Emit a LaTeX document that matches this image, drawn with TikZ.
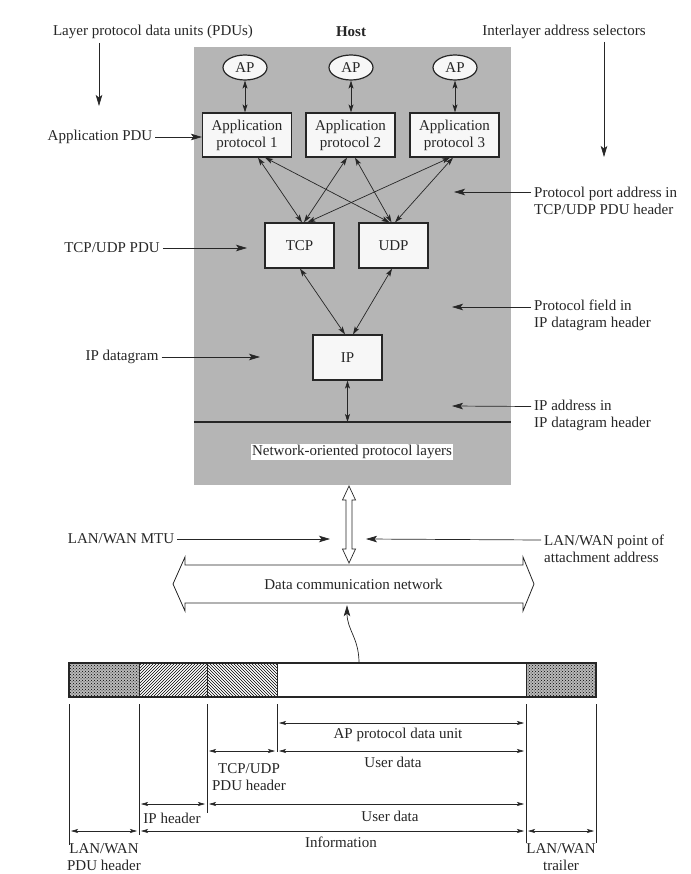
\documentclass[tikz,border=0pt]{standalone}
\usepackage{fontspec}
\setmainfont{Liberation Serif}
\usetikzlibrary{arrows.meta,patterns,shapes.geometric}
\begin{document}
\begin{tikzpicture}[x=1pt,y=-1pt,
  every node/.style={font=\fontsize{15}{17}\selectfont, text=black!85},
  lbl/.style={inner sep=0pt, align=center},
  rlbl/.style={inner sep=0pt, align=left, anchor=west},
  box/.style={draw=black!85, fill=gray!6, line width=1.2pt, minimum width=89pt, minimum height=44pt, inner sep=0pt, align=center},
  pbox/.style={draw=black!85, fill=gray!6, line width=1.2pt, minimum width=69pt, minimum height=45pt, inner sep=0pt},
  apnode/.style={draw=black!85, ellipse, fill=gray!6, line width=1.2pt, minimum width=44pt, minimum height=25pt, inner sep=0pt},
  tip/.style={draw=black!85, -{Stealth[length=11pt,width=6.5pt,inset=2.5pt]}, line width=0.7pt},
  dtip/.style={draw=black!85, {Stealth[length=8pt,width=5pt,inset=2pt]}-{Stealth[length=8pt,width=5pt,inset=2pt]}, line width=0.7pt},
  dim/.style={draw=black!85, {Stealth[length=7pt,width=4pt,inset=1.5pt]}-{Stealth[length=7pt,width=4pt,inset=1.5pt]}, line width=0.6pt, shorten <=2pt, shorten >=2pt},
  tick/.style={draw=black!85, line width=0.6pt},
]
\useasboundingbox (0,0) rectangle (690,874);
\fill[white] (0,0) rectangle (690,874);

% host background
\node[fill=gray!58, minimum width=317pt, minimum height=438pt, inner sep=0pt] (hostbg) at (352.5,266) {};

% top titles
\node[lbl] (lpdu) at (153,32) {Layer protocol data units (PDUs)};
\node[lbl, font=\fontsize{15}{17}\selectfont\bfseries] (host) at (351,32) {Host};
\node[lbl] (ilas) at (564,32) {Interlayer address selectors};
\coordinate (l1a) at (99,43); \coordinate (l1b) at (99,106);
\draw[tip] (l1a) -- (l1b);
\coordinate (r1a) at (604,42); \coordinate (r1b) at (604,157);
\draw[tip] (r1a) -- (r1b);

% AP and application protocols
\node[apnode] (ap1) at (245,67.5) {AP};
\node[apnode] (ap2) at (351,67.5) {AP};
\node[apnode] (ap3) at (455,67.5) {AP};
\node[box] (app1) at (247,135) {Application\\protocol 1};
\node[box] (app2) at (350.5,135) {Application\\protocol 2};
\node[box] (app3) at (454.5,135) {Application\\protocol 3};
\draw[dtip] (ap1.south) -- (ap1.south |- app1.north);
\draw[dtip] (ap2.south) -- (ap2.south |- app2.north);
\draw[dtip] (ap3.south) -- (ap3.south |- app3.north);

% transport and IP
\node[pbox] (tcp) at (299.5,245.5) {TCP};
\node[pbox] (udp) at (393.5,245.5) {UDP};
\node[pbox] (ip) at (347.5,357.5) {IP};

\draw[dtip] ([xshift=11pt]app1.south) -- ([xshift=2.5pt]tcp.north);
\draw[dtip] ([xshift=18pt]app1.south) -- ([xshift=-4pt]udp.north);
\draw[dtip] ([xshift=-3.5pt]app2.south) -- ([xshift=4.5pt]tcp.north);
\draw[dtip] ([xshift=4.5pt]app2.south) -- ([xshift=-2pt]udp.north);
\draw[dtip] ([xshift=-4.5pt]app3.south) -- ([xshift=8pt]tcp.north);
\draw[dtip] ([xshift=-1.5pt]app3.south) -- ([xshift=1.5pt]udp.north);
\draw[dtip] ([xshift=0.5pt]tcp.south) -- ([xshift=-2.5pt]ip.north);
\draw[dtip] ([xshift=-1.5pt]udp.south) -- ([xshift=5.5pt]ip.north);

% left labels
\node[lbl] (apdu) at (100,137) {Application PDU};
\draw[tip] ([xshift=3pt]apdu.east) -- (apdu.east -| app1.west);
\node[lbl] (tupdu) at (112,248) {TCP/UDP PDU};
\coordinate (tupduE) at (247,248);
\draw[tip] ([xshift=3pt]tupdu.east) -- (tupduE);
\node[lbl] (ipd) at (122,357) {IP datagram};
\coordinate (ipdE) at (260,357);
\draw[tip] ([xshift=3pt]ipd.east) -- (ipdE);

% right labels
\node[rlbl] (ppa) at (534,200.5) {Protocol port address in\\TCP/UDP PDU header};
\coordinate (ppaE) at (454,192);
\draw[tip] ([xshift=-3pt,yshift=8.5pt]ppa.west) -- (ppaE);
\node[rlbl] (pf) at (534,315.5) {Protocol field in\\IP datagram header};
\coordinate (pfE) at (452,307);
\draw[tip] ([xshift=-3pt,yshift=8.5pt]pf.west) -- (pfE);
\node[rlbl] (ipa) at (534,415) {IP address in\\IP datagram header};
\coordinate (ipaE) at (452,406);
\draw[tip] ([xshift=-3pt,yshift=8.5pt]ipa.west) -- (ipaE);

% network-oriented layers
\coordinate (netln) at (347.5,422);
\draw[draw=black!85, line width=1.1pt] (hostbg.west |- netln) -- (hostbg.east |- netln);
\draw[dtip] (ip.south) -- (netln);
\node[fill=white, inner sep=1.5pt] (nopl) at (352,452) {Network-oriented protocol layers};

% open double arrow
\coordinate (mtuT) at (349,486);
\coordinate (mtuB) at (349,563);
\draw[draw=black!85, fill=white, line width=0.7pt] (mtuT) -- ++(6.5,14) -- ++(-3.5,0) -- ++(0,49) -- ++(3.5,0) -- (mtuB) -- ++(-6.5,-14) -- ++(3.5,0) -- ++(0,-49) -- ++(-3.5,0) -- cycle;

% MTU labels
\node[lbl] (mtu) at (121,539) {LAN/WAN MTU};
\coordinate (mtuE) at (330,539);
\draw[tip] ([xshift=3pt]mtu.east) -- (mtuE);
\node[rlbl] (poa) at (544,548.5) {LAN/WAN point of\\attachment address};
\coordinate (poaE) at (366,539);
\draw[tip] ([xshift=-3pt,yshift=8.5pt]poa.west) -- (poaE);

% data communication network
\node[lbl, minimum width=338pt, minimum height=38pt] (net) at (353.5,584) {Data communication network};
\draw[draw=black!85, line width=0.8pt] (173,584) -- (185,557) -- (185,565) -- (523,565) -- (523,557) -- (534,584) -- (523,611) -- (523,603) -- (185,603) -- (185,611) -- cycle;

% frame
\coordinate (b0) at (69,697);
\coordinate (b1) at (139,697);
\coordinate (b2) at (207,697);
\coordinate (b3) at (277,697);
\coordinate (b4) at (526,697);
\coordinate (b5) at (596,697);
\fill[gray!55] (69,663) rectangle (b1);
\fill[pattern=crosshatch dots] (69,663) rectangle (b1);
\fill[pattern=north east lines] (139,663) rectangle (b2);
\fill[pattern=north west lines] (207,663) rectangle (b3);
\fill[gray!55] (526,663) rectangle (b5);
\fill[pattern=crosshatch dots] (526,663) rectangle (b5);
\draw[draw=black!85, line width=1.1pt] (69,663) rectangle (b5);
\draw[draw=black!85, line width=1pt] (139,663) -- (b1) (207,663) -- (b2) (277,663) -- (b3) (526,663) -- (b4);

\coordinate (frT) at (359,663);
\draw[tip] (frT) .. controls (359,638) and (347,630) .. ([xshift=-6.5pt,yshift=-2pt]net.south);

% ticks
\draw[tick] ([yshift=-7pt]b0) -- ++(0,141);
\draw[tick] ([yshift=-7pt]b1) -- ++(0,131);
\draw[tick] ([yshift=-7pt]b2) -- ++(0,109);
\draw[tick] ([yshift=-7pt]b3) -- ++(0,48);
\draw[tick] ([yshift=-7pt]b4) -- ++(0,139);
\draw[tick] ([yshift=-7pt]b5) -- ++(0,139);

% dimension levels
\coordinate (y1) at (0,723);
\coordinate (y2) at (0,751);
\coordinate (y3) at (0,804);
\coordinate (y4) at (0,831);
\draw[dim] (b3 |- y1) -- (b4 |- y1);
\node[lbl] (apdu2) at (398,735) {AP protocol data unit};
\draw[dim] (b3 |- y2) -- (b4 |- y2);
\node[lbl] (ud1) at (393,762) {User data};
\draw[dim] (b2 |- y2) -- (b3 |- y2);
\node[lbl] (tuh) at (249,777.5) {TCP/UDP\\PDU header};
\draw[dim] (b1 |- y3) -- (b2 |- y3);
\node[lbl] (iph) at (172,818) {IP header};
\draw[dim] (b2 |- y3) -- (b4 |- y3);
\node[lbl] (ud2) at (390,816) {User data};
\draw[dim] (b0 |- y4) -- (b1 |- y4);
\draw[dim] (b1 |- y4) -- (b4 |- y4);
\node[lbl] (info) at (341,842) {Information};
\draw[dim] (b4 |- y4) -- (b5 |- y4);
\node[lbl] (lwh) at (104,857.5) {LAN/WAN\\PDU header};
\node[lbl] (lwt) at (561,857.5) {LAN/WAN\\trailer};
\end{tikzpicture}
\end{document}
